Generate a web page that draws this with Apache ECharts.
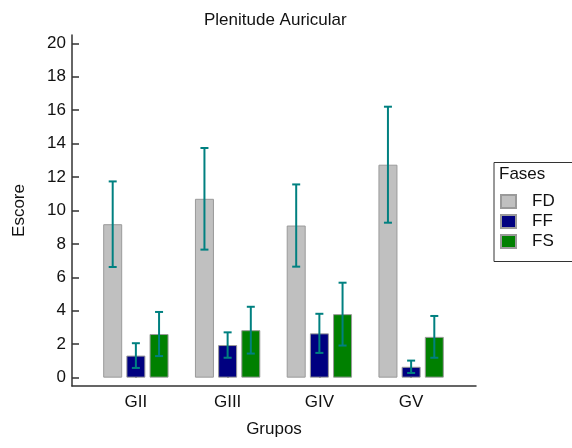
<!DOCTYPE html>
<html>
<head>
<meta charset="utf-8">
<script src="https://cdn.jsdelivr.net/npm/echarts@6/dist/echarts.min.js"></script>
<style>
  html, body { margin: 0; padding: 0; background: #fff; }
  #chart { width: 572px; height: 448px; }
</style>
</head>
<body>
<div id="chart"></div>
<script>
// Group names and per-phase means / standard deviations
const categories = ['GII', 'GIII', 'GIV', 'GV'];
const seriesNames = ['FD', 'FF', 'FS'];
const fdMean = [9.18, 10.70, 9.10, 12.74];
const fdSd   = [2.56, 3.04, 2.46, 3.47];
const ffMean = [1.32, 1.95, 2.65, 0.65];
const ffSd   = [0.74, 0.76, 1.17, 0.37];
const fsMean = [2.61, 2.84, 3.80, 2.44];
const fsSd   = [1.32, 1.40, 1.88, 1.25];
const yTicks = [0, 2, 4, 6, 8, 10, 12, 14, 16, 18, 20];

const FONT = "'Liberation Sans', Arial, Helvetica, sans-serif";
const colors = ['#c0c0c0', '#000080', '#008000'];
const BAR_W = 19;
const BAR_GAP = 0.22;
const means = [fdMean, ffMean, fsMean];
const sds = [fdSd, ffSd, fsSd];

const chart = echarts.init(document.getElementById('chart'), null, { renderer: 'canvas' });

// Mean ± SD whiskers, shifted to sit on the matching bar of each group
function errorSeries(k) {
  const offset = (k - 1) * (BAR_W * (1 + BAR_GAP));
  return {
    type: 'custom',
    xAxisIndex: 0,
    yAxisIndex: 0,
    z: 5,
    silent: true,
    data: categories.map((c, i) => [i, means[k][i], sds[k][i]]),
    encode: { x: 0, y: 1 },
    renderItem: function (params, api) {
      const i = api.value(0);
      const m = api.value(1);
      const s = api.value(2);
      const top = api.coord([i, m + s]);
      const bot = api.coord([i, m - s]);
      const x = top[0] + offset;
      const cap = 4;
      const style = { stroke: '#008080', lineWidth: 2 };
      return {
        type: 'group',
        children: [
          { type: 'line', shape: { x1: x, y1: top[1], x2: x, y2: bot[1] }, style: style },
          { type: 'line', shape: { x1: x - cap, y1: top[1], x2: x + cap, y2: top[1] }, style: style },
          { type: 'line', shape: { x1: x - cap, y1: bot[1], x2: x + cap, y2: bot[1] }, style: style }
        ]
      };
    }
  };
}

const barSeries = seriesNames.map((name, k) => ({
  name: name,
  type: 'bar',
  xAxisIndex: 0,
  yAxisIndex: 0,
  barWidth: BAR_W,
  barGap: (BAR_GAP * 100) + '%',
  data: means[k],
  itemStyle: { color: colors[k], borderColor: '#9a9a9a', borderWidth: 1 }
}));

const option = {
  animation: false,
  textStyle: { fontFamily: FONT },
  title: {
    text: 'Plenitude Auricular',
    left: 199,
    top: 7,
    textStyle: { fontFamily: FONT, fontSize: 17, fontWeight: 'normal', color: '#111' }
  },
  legend: {
    data: seriesNames,
    orient: 'vertical',
    left: 495,
    top: 188,
    icon: 'rect',
    itemWidth: 15,
    itemHeight: 13,
    itemGap: 3,
    textStyle: { fontFamily: FONT, fontSize: 17, color: '#111', padding: [0, 0, 0, 11] }
  },
  graphic: [
    {
      type: 'rect',
      left: 491.5, top: 160,
      shape: { width: 79, height: 99 },
      style: { fill: 'none', stroke: '#333', lineWidth: 1 }
    },
    {
      type: 'text',
      left: 499, top: 166,
      style: { text: 'Fases', font: '17px ' + FONT, fill: '#111' }
    }
  ],
  grid: [
    { left: 90, top: 35, width: 367, height: 351 },
    { left: 72, top: 35, width: 404, height: 351 }
  ],
  xAxis: [
    {
      type: 'category',
      gridIndex: 0,
      data: categories,
      axisLine: { show: false },
      axisTick: { show: true, inside: true, length: 8, alignWithLabel: true, lineStyle: { color: '#333', width: 1.5 } },
      axisLabel: { fontFamily: FONT, fontSize: 17, color: '#111', margin: 8 }
    },
    {
      type: 'value',
      gridIndex: 1,
      min: 0, max: 1,
      name: 'Grupos',
      nameLocation: 'middle',
      nameGap: 35,
      nameTextStyle: { fontFamily: FONT, fontSize: 17, color: '#111' },
      axisLine: { show: true, onZero: false, lineStyle: { color: '#333', width: 1.5 } },
      axisTick: { show: false },
      axisLabel: { show: false },
      splitLine: { show: false }
    }
  ],
  yAxis: [
    {
      type: 'value',
      gridIndex: 0,
      min: -0.5, max: 20.5,
      show: false,
      splitLine: { show: false }
    },
    {
      type: 'value',
      gridIndex: 1,
      min: -0.5, max: 20.5,
      name: 'Escore',
      nameLocation: 'middle',
      nameGap: 44,
      nameTextStyle: { fontFamily: FONT, fontSize: 17, color: '#111' },
      axisLine: { show: true, onZero: false, lineStyle: { color: '#333', width: 1.5 } },
      axisTick: { show: true, inside: true, length: 7, customValues: yTicks, lineStyle: { color: '#333', width: 1.5 } },
      axisLabel: { fontFamily: FONT, fontSize: 17, color: '#111', margin: 6, customValues: yTicks },
      splitLine: { show: false }
    }
  ],
  series: barSeries.concat([errorSeries(0), errorSeries(1), errorSeries(2)])
};

chart.setOption(option);
</script>
</body>
</html>
